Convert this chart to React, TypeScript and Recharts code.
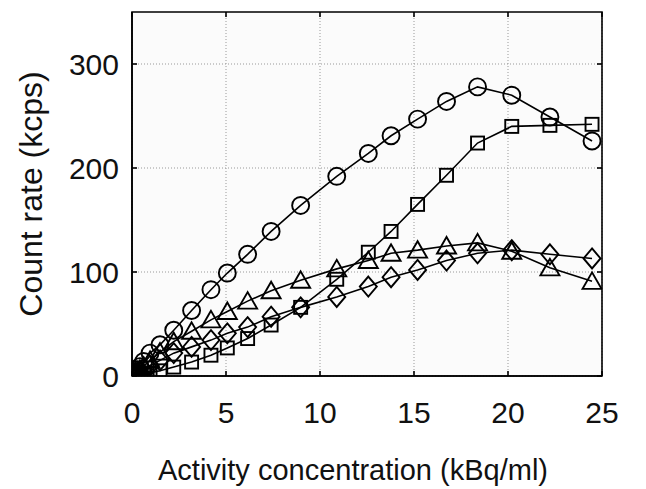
import React from "react";
import {
  CartesianGrid,
  ReferenceArea,
  Scatter,
  ScatterChart,
  XAxis,
  YAxis,
} from "recharts";

// Activity concentration (kBq/ml), shared by all four series
const activity = [
  0.05, 0.1, 0.18, 0.28, 0.42, 0.62, 0.96, 1.49, 2.22, 3.17, 4.2, 5.07, 6.15,
  7.4, 8.97, 10.89, 12.57, 13.78, 15.19, 16.73, 18.38, 20.2, 22.23, 24.47,
];

// Count rates (kcps)
const circleRate = [
  1, 2, 4, 6, 9, 14, 22, 30, 44, 63, 83, 99, 117, 139, 164, 192, 214, 231, 247,
  264, 278, 270, 249, 226,
];
const squareRate = [
  0.2, 0.3, 0.6, 0.9, 1.3, 2, 3, 5, 8.6, 13.4, 20, 27, 36, 49, 66, 93, 119, 139,
  165, 193, 224, 240, 241, 242,
];
const triangleRate = [
  0.8, 1.5, 2.7, 4.2, 6.3, 9.5, 15, 23, 33, 43, 54, 62, 72, 82, 92, 103, 111,
  118, 121, 125, 128, 120, 104, 91,
];
const diamondRate = [
  0.5, 1, 1.8, 2.8, 4.2, 6.3, 10, 15, 22, 28, 34.5, 41, 47, 57, 66, 76, 86, 95,
  102, 111, 118, 121, 117, 113,
];

const xTicks = [0, 5, 10, 15, 20, 25];
const yTicks = [0, 100, 200, 300];

const FONT = "'Liberation Sans', Arial, Helvetica, sans-serif";
const INK = "#000";

const toPoints = (ys: number[]) => activity.map((x, i) => ({ x, y: ys[i] }));

const markStyle = { fill: "none", stroke: INK, strokeWidth: 1.9 };

const CircleMark = (p: any) => (
  <circle cx={p.cx} cy={p.cy} r={8.5} {...markStyle} />
);

const SquareMark = (p: any) => (
  <rect x={p.cx - 6.5} y={p.cy - 6.5} width={13} height={13} {...markStyle} />
);

const TriangleMark = (p: any) => (
  <polygon
    points={`${p.cx},${p.cy - 9} ${p.cx - 9.5},${p.cy + 7.5} ${p.cx + 9.5},${p.cy + 7.5}`}
    {...markStyle}
  />
);

const DiamondMark = (p: any) => (
  <polygon
    points={`${p.cx},${p.cy - 10} ${p.cx + 8.5},${p.cy} ${p.cx},${p.cy + 10} ${p.cx - 8.5},${p.cy}`}
    {...markStyle}
  />
);

const YTitle = (props: any) => {
  const vb = props.viewBox;
  const cx = vb.x + 31;
  const cy = vb.y + vb.height / 2;
  return (
    <text
      x={cx}
      y={cy}
      transform={`rotate(-90 ${cx} ${cy})`}
      textAnchor="middle"
      dominantBaseline="central"
      fontSize={32}
      fontFamily={FONT}
      fill="#111"
    >
      Count rate (kcps)
    </text>
  );
};

const XTitle = (props: any) => {
  const vb = props.viewBox;
  return (
    <text
      x={vb.x + 221}
      y={vb.y + 104}
      textAnchor="middle"
      fontSize={29}
      fontFamily={FONT}
      fill="#111"
    >
      Activity concentration (kBq/ml)
    </text>
  );
};

const tickFont = { fontSize: 30, fontFamily: FONT, fill: "#111" };
const frameLine = { stroke: INK, strokeWidth: 1.6 };
const blank = () => "";

export default function App() {
  const lineStyle = { stroke: INK, strokeWidth: 1.6 };
  return (
    <div style={{ position: "absolute", left: 0, top: 0, background: "#fff" }}>
      <ScatterChart
        width={646}
        height={489}
        margin={{ top: 11, right: 43, bottom: 0, left: 0 }}
      >
        <CartesianGrid
          stroke="#999"
          strokeDasharray="1 2"
          fill="#fbfbfb"
          horizontalValues={yTicks}
          verticalValues={xTicks}
        />
        <XAxis
          type="number"
          dataKey="x"
          domain={[0, 25]}
          ticks={xTicks}
          height={113}
          axisLine={frameLine}
          tickLine={frameLine}
          tickSize={-5}
          tickMargin={31}
          tick={tickFont}
          label={<XTitle />}
          allowDataOverflow
        />
        <XAxis
          xAxisId="top"
          orientation="top"
          type="number"
          dataKey="x"
          domain={[0, 25]}
          ticks={xTicks}
          height={1}
          axisLine={false}
          tickLine={frameLine}
          tickSize={-5}
          tickFormatter={blank}
          allowDataOverflow
        />
        <YAxis
          type="number"
          dataKey="y"
          domain={[0, 350]}
          ticks={yTicks}
          width={132}
          axisLine={frameLine}
          tickLine={frameLine}
          tickSize={-5}
          tickMargin={18}
          tick={tickFont}
          label={<YTitle />}
          allowDataOverflow
        />
        <YAxis
          yAxisId="right"
          orientation="right"
          type="number"
          dataKey="y"
          domain={[0, 350]}
          ticks={yTicks}
          width={1}
          axisLine={false}
          tickLine={frameLine}
          tickSize={-5}
          tickFormatter={blank}
          allowDataOverflow
        />
        <ReferenceArea
          x1={0}
          x2={25}
          y1={0}
          y2={350}
          fill="none"
          fillOpacity={0}
          stroke={INK}
          strokeWidth={1.6}
          ifOverflow="visible"
        />
        <Scatter
          data={toPoints(circleRate)}
          line={lineStyle}
          lineType="joint"
          shape={CircleMark}
          isAnimationActive={false}
        />
        <Scatter
          data={toPoints(squareRate)}
          line={lineStyle}
          lineType="joint"
          shape={SquareMark}
          isAnimationActive={false}
        />
        <Scatter
          data={toPoints(triangleRate)}
          line={lineStyle}
          lineType="joint"
          shape={TriangleMark}
          isAnimationActive={false}
        />
        <Scatter
          data={toPoints(diamondRate)}
          line={lineStyle}
          lineType="joint"
          shape={DiamondMark}
          isAnimationActive={false}
        />
      </ScatterChart>
    </div>
  );
}
